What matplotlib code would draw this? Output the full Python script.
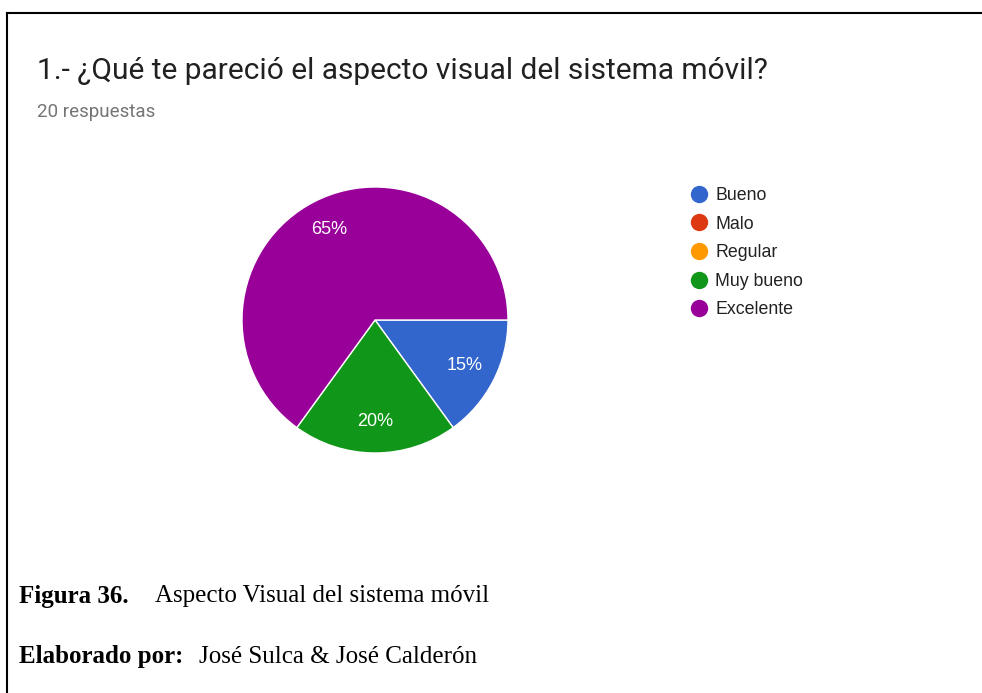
import matplotlib.pyplot as plt
from matplotlib.lines import Line2D

# Data
categories = ['Bueno', 'Malo', 'Regular', 'Muy bueno', 'Excelente']
values = [3, 0, 0, 4, 13]
colors = ['#3366CC', '#DC3912', '#FF9900', '#109618', '#990099']

title = '1.- ¿Qué te pareció el aspecto visual del sistema móvil?'
subtitle = '20 respuestas'

W, H = 982, 693
fig = plt.figure(figsize=(W / 100, H / 100), dpi=100)

# pie axes, placed in pixels
cx, cy, r = 375, 320, 133
ax = fig.add_axes([(cx - r) / W, (H - cy - r) / H, 2 * r / W, 2 * r / H])

# keep only non-zero slices for drawing
vals = [v for v in values if v > 0]
cols = [c for v, c in zip(values, colors) if v > 0]
wedges, _, autotexts = ax.pie(
    vals, colors=cols, startangle=0, counterclock=False,
    autopct='%1.0f%%', pctdistance=0.76, radius=1,
    wedgeprops=dict(edgecolor='white', linewidth=1),
    textprops=dict(color='white', fontsize=13, family='Liberation Sans'))
ax.set_xlim(-1, 1)
ax.set_ylim(-1, 1)
ax.set_aspect('equal')
ax.axis('off')

# legend
handles = [Line2D([], [], linestyle='none', marker='o', markersize=11.5,
                  markerfacecolor=c, markeredgecolor=c) for c in colors]
leg = fig.legend(handles, categories, loc='upper left',
                 bbox_to_anchor=(680 / W, 1 - 180 / H), frameon=False,
                 prop=dict(family='Liberation Sans', size=12.8),
                 labelspacing=0.65, handletextpad=0.27, handlelength=1.3,
                 borderaxespad=0)
for t in leg.get_texts():
    t.set_color('#222222')

# titles
fig.text(37 / W, 1 - 71 / H, title, fontsize=21.5, family='Roboto',
         color='#212121', va='center', ha='left')
fig.text(37 / W, 1 - 112 / H, subtitle, fontsize=13.5, family='Roboto',
         color='#757575', va='center', ha='left')

# caption
fig.text(19 / W, 1 - 596 / H, 'Figura 36.', fontsize=18, family='Liberation Serif',
         weight='bold', va='center', ha='left')
fig.text(155 / W, 1 - 596 / H, 'Aspecto Visual del sistema móvil', fontsize=18,
         family='Liberation Serif', va='center', ha='left')
fig.text(19 / W, 1 - 657 / H, 'Elaborado por:', fontsize=18, family='Liberation Serif',
         weight='bold', va='center', ha='left')
fig.text(199 / W, 1 - 657 / H, 'José Sulca & José Calderón', fontsize=18,
         family='Liberation Serif', va='center', ha='left')

# frame lines (left and top)
fig.add_artist(Line2D([6.5 / W, 6.5 / W], [0, 1 - 12.5 / H], color='black', lw=1.5))
fig.add_artist(Line2D([6.5 / W, 1], [1 - 12.5 / H, 1 - 12.5 / H], color='black', lw=1.5))

fig.savefig('out.png', dpi=100)
